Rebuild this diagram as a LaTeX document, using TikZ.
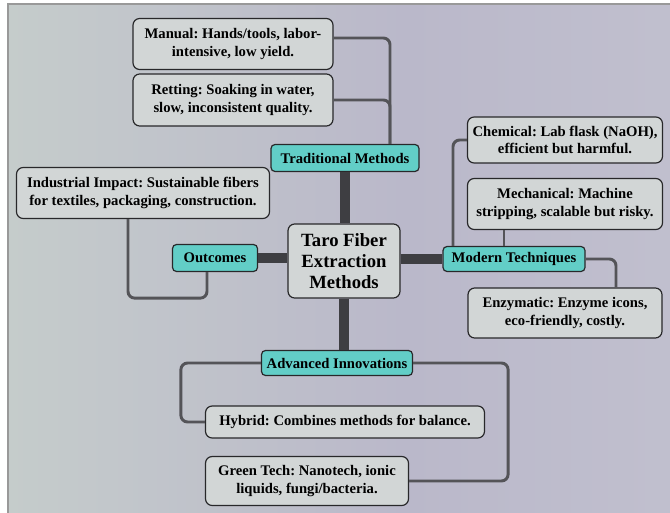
\documentclass[tikz,border=0pt]{standalone}
\usepackage{fontspec}
\setmainfont{Liberation Serif}
\frenchspacing
\definecolor{boxgray}{RGB}{210,214,214}
\definecolor{tealfill}{RGB}{98,206,199}
\definecolor{edgegray}{RGB}{40,40,42}
\definecolor{linkgray}{RGB}{84,84,88}
\definecolor{trunkgray}{RGB}{62,62,66}
\definecolor{bgleft}{RGB}{204,208,207}
\definecolor{bgmint}{RGB}{198,206,203}
\definecolor{bglav}{RGB}{186,184,202}
\definecolor{bglav2}{RGB}{194,193,207}
\definecolor{bgright}{RGB}{201,203,205}
\pgfdeclarehorizontalshading{smoke}{100bp}{color(0bp)=(bgleft); color(22bp)=(bgmint); color(55bp)=(bglav); color(80bp)=(bglav2); color(100bp)=(bgright)}
\tikzset{every picture/.style={line width=0.75pt}}
\tikzset{
  infobox/.style={draw=edgegray, fill=boxgray, rounded corners=5pt, line width=0.9pt, align=center, inner sep=2pt, font=\fontsize{11}{13.3}\selectfont\bfseries},
  tealbox/.style={infobox, fill=tealfill, rounded corners=3pt},
  link/.style={draw=linkgray, line width=2.2pt, rounded corners=5pt},
  trunk/.style={draw=trunkgray, line width=7pt}
}

\begin{document}
\begin{tikzpicture}[x=0.75pt,y=0.75pt,yscale=-1,xscale=1]
\useasboundingbox (0,0) rectangle (670,513);

%Background
\shade[shading=smoke] (8,4) rectangle (670,513);
\draw[gray!80, line width=0.8pt] (8,513) -- (8,4) -- (670,4);

%Central node
\node (center) at (344,261) [infobox, minimum width=84pt, minimum height=55.5pt, font=\fontsize{14}{16}\selectfont\bfseries] {Taro Fiber\\Extraction\\Methods};

%Branch labels
\node (trad) at (345,158) [tealbox, minimum width=111pt, minimum height=20.25pt] {Traditional Methods};
\node (modern) at (514,259) [tealbox, minimum width=106.5pt, minimum height=18.75pt] {Modern Techniques};
\node (outc) at (215,258) [tealbox, minimum width=63.75pt, minimum height=20.25pt] {Outcomes};
\node (adv) at (337,363) [tealbox, minimum width=113.25pt, minimum height=18.75pt] {Advanced Innovations};

%Leaves
\node (manual) at (233,44) [infobox, minimum width=150pt, minimum height=38.25pt] {Manual: Hands/tools, labor-\\intensive, low yield.};
\node (retting) at (233,100) [infobox, minimum width=150pt, minimum height=39pt] {Retting: Soaking in water,\\slow, inconsistent quality.};
\node (chem) at (565,140) [infobox, minimum width=146.25pt, minimum height=34.5pt] {Chemical: Lab flask (NaOH),\\efficient but harmful.};
\node (mech) at (565,204) [infobox, minimum width=146.25pt, minimum height=38.25pt] {Mechanical: Machine\\stripping, scalable but risky.};
\node (enzy) at (565,313) [infobox, minimum width=145.5pt, minimum height=37.5pt] {Enzymatic: Enzyme icons,\\eco-friendly, costly.};
\node (indus) at (143,193) [infobox, minimum width=189.75pt, minimum height=38.25pt] {Industrial Impact: Sustainable fibers\\for textiles, packaging, construction.};
\node (hybrid) at (345,422) [infobox, minimum width=209.25pt, minimum height=24pt] {Hybrid: Combines methods for balance.};
\node (green) at (307,481) [infobox, minimum width=152.25pt, minimum height=36.75pt] {Green Tech: Nanotech, ionic\\liquids, fungi/bacteria.};

%Trunk lines
\draw[trunk] (trad.south) -- (trad.south |- center.north);
\draw[trunk] (center.east |- modern.west) -- (modern.west);
\draw[trunk] (outc.east) -- (outc.east -| center.west);
\draw[trunk] (center.south) -- (center.south |- adv.north);

%Connectors
\draw[link] ([yshift=-4.5pt]manual.east) -| ([xshift=33.75pt]trad.north);
\draw[link] (retting.east) -| ([xshift=33.75pt]trad.north);
\draw[link] (chem.west) -| ([xshift=-45.75pt]modern.north);
\draw[link] ([xshift=-45.75pt]mech.south) -- ([xshift=-7.5pt]modern.north);
\draw[link] (modern.east) -| ([xshift=38.25pt]enzy.north);
\draw[link] ([xshift=-11.25pt]indus.south) -- ++(0,79) -| ([xshift=-6pt]outc.south);
\draw[link] (adv.west) -- ++(-80,0) |- (hybrid.west);
\draw[link] (adv.east) -- ++(95,0) |- (green.east);

\end{tikzpicture}
\end{document}
